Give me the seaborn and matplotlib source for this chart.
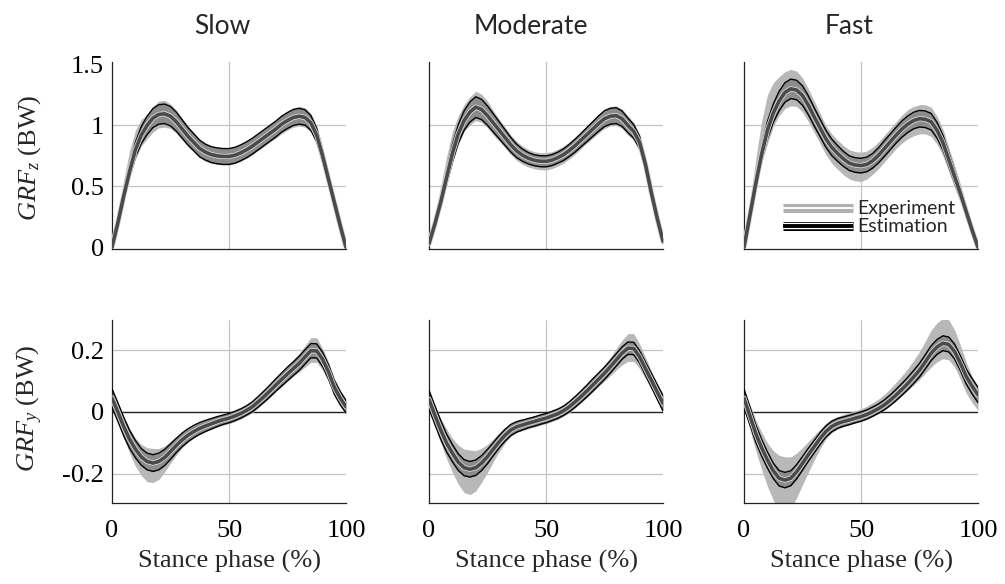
import numpy as np
import pandas as pd
import matplotlib
matplotlib.use("Agg")
import matplotlib.pyplot as plt
import matplotlib.patheffects as pe
from matplotlib.lines import Line2D
import seaborn as sns

# ---------------- data ----------------
stance = [0, 2.5, 5, 7.5, 10, 12.5, 15, 17.5, 20, 22.5,
          25, 27.5, 30, 32.5, 35, 37.5, 40, 42.5, 45, 47.5,
          50, 52.5, 55, 57.5, 60, 62.5, 65, 67.5, 70, 72.5,
          75, 77.5, 80, 82.5, 85, 87.5, 90, 92.5, 95, 97.5, 100]
speeds = ["Slow", "Moderate", "Fast"]

# ---- vertical GRF (BW) ----
grfz_est_mean_slow = [0.00, 0.20, 0.42, 0.62, 0.80, 0.92, 1.00, 1.06, 1.09, 1.095,
                      1.075, 1.03, 0.97, 0.91, 0.86, 0.81, 0.78, 0.76, 0.75, 0.745,
                      0.745, 0.755, 0.775, 0.80, 0.83, 0.865, 0.90, 0.935, 0.97, 1.01,
                      1.04, 1.065, 1.075, 1.065, 1.02, 0.92, 0.75, 0.56, 0.37, 0.18, 0.00]
grfz_est_sd_slow = [0.00, 0.015, 0.03, 0.045, 0.06, 0.07, 0.075, 0.078, 0.08, 0.08,
                    0.08, 0.078, 0.075, 0.072, 0.07, 0.068, 0.065, 0.065, 0.065, 0.065,
                    0.065, 0.065, 0.065, 0.065, 0.065, 0.065, 0.065, 0.065, 0.065, 0.065,
                    0.065, 0.065, 0.065, 0.063, 0.06, 0.055, 0.05, 0.04, 0.03, 0.015, 0.00]
grfz_exp_mean_slow = [0.00, 0.24, 0.47, 0.68, 0.84, 0.94, 0.99, 1.05, 1.09, 1.095,
                      1.075, 1.03, 0.97, 0.91, 0.86, 0.81, 0.78, 0.76, 0.75, 0.745,
                      0.745, 0.755, 0.775, 0.80, 0.83, 0.865, 0.90, 0.935, 0.97, 1.01,
                      1.04, 1.065, 1.075, 1.065, 1.02, 0.92, 0.75, 0.56, 0.37, 0.18, 0.00]
grfz_exp_sd_slow = [0.01, 0.04, 0.08, 0.11, 0.12, 0.11, 0.10, 0.105, 0.11, 0.11,
                    0.10, 0.095, 0.09, 0.085, 0.08, 0.078, 0.075, 0.072, 0.07, 0.07,
                    0.07, 0.07, 0.07, 0.07, 0.07, 0.07, 0.07, 0.07, 0.075, 0.078,
                    0.08, 0.08, 0.08, 0.08, 0.08, 0.075, 0.07, 0.055, 0.04, 0.025, 0.01]

grfz_est_mean_mod = [0.03, 0.19, 0.37, 0.57, 0.77, 0.93, 1.04, 1.11, 1.15, 1.13,
                     1.08, 1.02, 0.96, 0.90, 0.84, 0.79, 0.755, 0.73, 0.714, 0.706,
                     0.705, 0.715, 0.735, 0.76, 0.795, 0.835, 0.88, 0.925, 0.97, 1.015,
                     1.055, 1.075, 1.08, 1.055, 1.00, 0.95, 0.86, 0.68, 0.45, 0.24, 0.05]
grfz_est_sd_mod = [0.01, 0.025, 0.04, 0.055, 0.07, 0.075, 0.08, 0.083, 0.085, 0.083,
                   0.08, 0.075, 0.07, 0.065, 0.06, 0.055, 0.05, 0.047, 0.045, 0.045,
                   0.045, 0.045, 0.045, 0.048, 0.05, 0.053, 0.055, 0.058, 0.06, 0.063,
                   0.065, 0.065, 0.065, 0.063, 0.06, 0.055, 0.05, 0.045, 0.04, 0.03, 0.02]
grfz_exp_mean_mod = [0.03, 0.22, 0.42, 0.63, 0.82, 0.96, 1.06, 1.12, 1.16, 1.14,
                     1.09, 1.02, 0.96, 0.90, 0.84, 0.79, 0.755, 0.73, 0.714, 0.706,
                     0.705, 0.715, 0.735, 0.76, 0.795, 0.835, 0.88, 0.925, 0.97, 1.015,
                     1.055, 1.075, 1.08, 1.055, 1.00, 0.95, 0.86, 0.68, 0.45, 0.24, 0.05]
grfz_exp_sd_mod = [0.02, 0.05, 0.08, 0.11, 0.13, 0.12, 0.11, 0.115, 0.12, 0.115,
                   0.11, 0.10, 0.09, 0.085, 0.08, 0.078, 0.075, 0.072, 0.07, 0.07,
                   0.07, 0.07, 0.07, 0.07, 0.07, 0.07, 0.07, 0.07, 0.075, 0.078,
                   0.08, 0.08, 0.08, 0.08, 0.08, 0.075, 0.07, 0.06, 0.05, 0.035, 0.02]

grfz_est_mean_fast = [0.00, 0.26, 0.52, 0.76, 0.96, 1.10, 1.20, 1.27, 1.30, 1.29,
                      1.245, 1.165, 1.07, 0.98, 0.89, 0.82, 0.77, 0.725, 0.69, 0.675,
                      0.67, 0.68, 0.71, 0.755, 0.81, 0.865, 0.92, 0.97, 1.01, 1.04,
                      1.055, 1.05, 1.03, 0.96, 0.86, 0.72, 0.58, 0.44, 0.29, 0.14, 0.00]
grfz_est_sd_fast = [0.00, 0.02, 0.04, 0.055, 0.07, 0.075, 0.08, 0.08, 0.08, 0.08,
                    0.08, 0.078, 0.075, 0.072, 0.07, 0.068, 0.065, 0.062, 0.06, 0.06,
                    0.06, 0.06, 0.06, 0.062, 0.065, 0.065, 0.065, 0.067, 0.068, 0.068,
                    0.068, 0.068, 0.068, 0.065, 0.06, 0.055, 0.05, 0.04, 0.03, 0.015, 0.00]
grfz_exp_mean_fast = [0.00, 0.30, 0.60, 0.86, 1.05, 1.17, 1.24, 1.29, 1.31, 1.30,
                      1.25, 1.165, 1.07, 0.975, 0.88, 0.81, 0.76, 0.715, 0.68, 0.665,
                      0.66, 0.675, 0.71, 0.755, 0.81, 0.865, 0.92, 0.97, 1.01, 1.035,
                      1.05, 1.05, 1.03, 0.96, 0.86, 0.72, 0.58, 0.44, 0.29, 0.14, 0.00]
grfz_exp_sd_fast = [0.02, 0.07, 0.12, 0.17, 0.20, 0.18, 0.16, 0.15, 0.15, 0.145,
                    0.14, 0.135, 0.13, 0.125, 0.12, 0.12, 0.12, 0.12, 0.12, 0.12,
                    0.12, 0.115, 0.11, 0.11, 0.11, 0.11, 0.11, 0.115, 0.12, 0.12,
                    0.12, 0.12, 0.12, 0.115, 0.11, 0.10, 0.09, 0.075, 0.06, 0.04, 0.02]

# ---- anterior-posterior GRF (BW) ----
grfy_est_mean_slow = [0.045, 0.000, -0.047, -0.088, -0.12, -0.145, -0.16, -0.165, -0.16, -0.147,
                      -0.128, -0.108, -0.09, -0.075, -0.063, -0.053, -0.045, -0.038, -0.031, -0.025,
                      -0.02, -0.013, -0.005, 0.005, 0.017, 0.033, 0.05, 0.068, 0.087, 0.105,
                      0.123, 0.14, 0.157, 0.178, 0.198, 0.197, 0.17, 0.13, 0.08, 0.045, 0.017]
grfy_est_sd_slow = [0.03, 0.03, 0.03, 0.029, 0.028, 0.027, 0.027, 0.027, 0.027, 0.026,
                    0.025, 0.023, 0.022, 0.021, 0.02, 0.019, 0.018, 0.017, 0.016, 0.015,
                    0.015, 0.015, 0.015, 0.015, 0.016, 0.017, 0.018, 0.019, 0.02, 0.021,
                    0.022, 0.022, 0.023, 0.023, 0.023, 0.023, 0.023, 0.023, 0.022, 0.021, 0.02]
grfy_exp_mean_slow = [0.045, -0.002, -0.05, -0.093, -0.13, -0.155, -0.17, -0.173, -0.168, -0.152,
                      -0.13, -0.109, -0.09, -0.075, -0.063, -0.053, -0.045, -0.038, -0.031, -0.025,
                      -0.02, -0.013, -0.005, 0.005, 0.017, 0.033, 0.05, 0.068, 0.087, 0.105,
                      0.124, 0.142, 0.16, 0.18, 0.20, 0.20, 0.17, 0.13, 0.08, 0.045, 0.017]
grfy_exp_sd_slow = [0.03, 0.032, 0.035, 0.04, 0.045, 0.05, 0.055, 0.055, 0.05, 0.042,
                    0.035, 0.03, 0.025, 0.022, 0.02, 0.018, 0.018, 0.018, 0.018, 0.018,
                    0.018, 0.018, 0.018, 0.018, 0.02, 0.02, 0.02, 0.021, 0.022, 0.023,
                    0.025, 0.027, 0.03, 0.035, 0.04, 0.04, 0.035, 0.032, 0.03, 0.027, 0.025]

grfy_est_mean_mod = [0.04, -0.01, -0.058, -0.10, -0.133, -0.162, -0.18, -0.185, -0.18, -0.165,
                     -0.144, -0.12, -0.096, -0.075, -0.058, -0.048, -0.042, -0.036, -0.031, -0.025,
                     -0.02, -0.013, -0.006, 0.004, 0.017, 0.033, 0.05, 0.068, 0.087, 0.106,
                     0.125, 0.146, 0.168, 0.19, 0.206, 0.205, 0.178, 0.14, 0.103, 0.065, 0.028]
grfy_est_sd_mod = [0.03, 0.03, 0.03, 0.029, 0.028, 0.027, 0.026, 0.025, 0.025, 0.024,
                   0.023, 0.021, 0.02, 0.019, 0.018, 0.017, 0.016, 0.015, 0.015, 0.015,
                   0.015, 0.015, 0.015, 0.015, 0.016, 0.017, 0.018, 0.019, 0.02, 0.02,
                   0.02, 0.02, 0.02, 0.02, 0.02, 0.02, 0.02, 0.021, 0.022, 0.023, 0.025]
grfy_exp_mean_mod = [0.04, -0.012, -0.06, -0.103, -0.14, -0.17, -0.19, -0.195, -0.19, -0.172,
                     -0.15, -0.123, -0.098, -0.076, -0.058, -0.048, -0.042, -0.036, -0.031, -0.025,
                     -0.02, -0.013, -0.006, 0.004, 0.017, 0.033, 0.05, 0.068, 0.087, 0.106,
                     0.125, 0.147, 0.17, 0.192, 0.208, 0.208, 0.18, 0.142, 0.103, 0.065, 0.028]
grfy_exp_sd_mod = [0.03, 0.035, 0.04, 0.048, 0.055, 0.063, 0.07, 0.072, 0.065, 0.055,
                   0.045, 0.037, 0.03, 0.025, 0.02, 0.018, 0.018, 0.018, 0.018, 0.018,
                   0.018, 0.018, 0.018, 0.018, 0.02, 0.02, 0.02, 0.021, 0.022, 0.023,
                   0.025, 0.03, 0.035, 0.04, 0.045, 0.045, 0.04, 0.035, 0.03, 0.03, 0.03]

grfy_est_mean_fast = [0.044, -0.012, -0.069, -0.115, -0.155, -0.19, -0.214, -0.22, -0.214, -0.193,
                      -0.166, -0.138, -0.112, -0.086, -0.063, -0.047, -0.037, -0.031, -0.026, -0.02,
                      -0.015, -0.008, 0.001, 0.011, 0.023, 0.038, 0.055, 0.073, 0.092, 0.113,
                      0.135, 0.162, 0.19, 0.21, 0.222, 0.218, 0.195, 0.157, 0.114, 0.083, 0.055]
grfy_est_sd_fast = [0.03, 0.029, 0.028, 0.027, 0.026, 0.025, 0.025, 0.025, 0.024, 0.023,
                    0.022, 0.021, 0.02, 0.019, 0.018, 0.017, 0.016, 0.015, 0.015, 0.015,
                    0.015, 0.015, 0.015, 0.015, 0.016, 0.017, 0.018, 0.019, 0.02, 0.021,
                    0.022, 0.023, 0.024, 0.024, 0.024, 0.024, 0.024, 0.024, 0.024, 0.025, 0.025]
grfy_exp_mean_fast = [0.044, -0.015, -0.075, -0.125, -0.17, -0.205, -0.23, -0.235, -0.23, -0.205,
                      -0.175, -0.145, -0.115, -0.087, -0.062, -0.045, -0.035, -0.028, -0.022, -0.016,
                      -0.01, -0.002, 0.008, 0.019, 0.032, 0.048, 0.066, 0.085, 0.105, 0.127,
                      0.15, 0.177, 0.205, 0.225, 0.237, 0.233, 0.205, 0.16, 0.11, 0.072, 0.04]
grfy_exp_sd_fast = [0.03, 0.04, 0.05, 0.06, 0.07, 0.08, 0.09, 0.09, 0.085, 0.072,
                    0.06, 0.05, 0.04, 0.032, 0.025, 0.022, 0.02, 0.02, 0.02, 0.02,
                    0.02, 0.021, 0.022, 0.023, 0.025, 0.027, 0.03, 0.032, 0.035, 0.04,
                    0.045, 0.052, 0.06, 0.063, 0.065, 0.065, 0.06, 0.055, 0.05, 0.042, 0.035]

x_ticks = [0, 50, 100]
x_tick_labels = ["0", "50", "100"]
z_ticks = [0, 0.5, 1, 1.5]
z_tick_labels = ["0", "0.5", "1", "1.5"]
y_ticks = [-0.2, 0, 0.2]
y_tick_labels = ["-0.2", "0", "0.2"]

panels = {
    ("z", "Slow"): (grfz_exp_mean_slow, grfz_exp_sd_slow, grfz_est_mean_slow, grfz_est_sd_slow),
    ("z", "Moderate"): (grfz_exp_mean_mod, grfz_exp_sd_mod, grfz_est_mean_mod, grfz_est_sd_mod),
    ("z", "Fast"): (grfz_exp_mean_fast, grfz_exp_sd_fast, grfz_est_mean_fast, grfz_est_sd_fast),
    ("y", "Slow"): (grfy_exp_mean_slow, grfy_exp_sd_slow, grfy_est_mean_slow, grfy_est_sd_slow),
    ("y", "Moderate"): (grfy_exp_mean_mod, grfy_exp_sd_mod, grfy_est_mean_mod, grfy_est_sd_mod),
    ("y", "Fast"): (grfy_exp_mean_fast, grfy_exp_sd_fast, grfy_est_mean_fast, grfy_est_sd_fast),
}

# ---------------- style ----------------
sns.set_theme(style="white")
plt.rcParams["font.family"] = ["Liberation Serif", "DejaVu Serif"]
plt.rcParams["mathtext.fontset"] = "custom"
plt.rcParams["mathtext.rm"] = "Liberation Serif"
plt.rcParams["mathtext.it"] = "Liberation Serif:italic"

EXP_C = "#b8b8b8"
EST_FILL = "#8c8c8c"
MEAN_C = "#4a4a4a"
GRID_C = "#c4c4c4"

fig = plt.figure(figsize=(10.05, 5.84), dpi=100)
W, H = 1005, 584
col_left = [112, 429, 744]
col_w = 234
rows = {"z": (62, 248.5), "y": (320, 503.3)}

axes = {}
for comp, (top, bot) in rows.items():
    for ci, sp in enumerate(speeds):
        ax = fig.add_axes([col_left[ci] / W, 1 - bot / H, col_w / W, (bot - top) / H])
        axes[(comp, sp)] = ax
        exp_m, exp_s, est_m, est_s = [np.asarray(a) for a in panels[(comp, sp)]]
        xs = np.asarray(stance)

        # reference lines
        ax.axvline(50, color=GRID_C, lw=0.9, zorder=0)
        if comp == "z":
            for g in (0.5, 1.0):
                ax.axhline(g, color=GRID_C, lw=0.9, zorder=0)
        else:
            for g in (-0.2, 0.2):
                ax.axhline(g, color=GRID_C, lw=0.9, zorder=0)
            ax.axhline(0, color="#222222", lw=1.0, zorder=0.5)

        # experiment band (mean +/- SD)
        ax.fill_between(xs, exp_m - exp_s, exp_m + exp_s, color=EXP_C, lw=0, zorder=1)
        # estimation band (mean +/- SD)
        ax.fill_between(xs, est_m - est_s, est_m + est_s, color=EST_FILL, lw=0, zorder=2)
        df = pd.DataFrame({"x": xs, "lo": est_m - est_s, "hi": est_m + est_s, "m": est_m})
        sns.lineplot(data=df, x="x", y="hi", ax=ax, color="black", lw=1.0, zorder=3)
        sns.lineplot(data=df, x="x", y="lo", ax=ax, color="black", lw=1.0, zorder=3)
        sns.lineplot(data=df, x="x", y="m", ax=ax, color=MEAN_C, lw=2.6, zorder=4,
                     path_effects=[pe.Stroke(linewidth=3.8, foreground="#d8d8d8"), pe.Normal()])

        ax.set_xlim(0, 100)
        ax.set_xticks(x_ticks)
        if comp == "z":
            ax.set_ylim(-0.01, 1.52)
            ax.set_yticks(z_ticks)
            ax.set_yticklabels(z_tick_labels if ci == 0 else [])
            ax.set_xticklabels([])
            ax.set_xlabel("")
        else:
            ax.set_ylim(-0.295, 0.297)
            ax.set_yticks(y_ticks)
            ax.set_yticklabels(y_tick_labels if ci == 0 else [])
            ax.set_xticklabels(x_tick_labels)
            ax.set_xlabel("Stance phase (%)", fontsize=19, labelpad=6)
        ax.set_ylabel("")
        ax.tick_params(axis="both", direction="in", length=3, width=0.8, colors="#222222",
                       labelsize=19, labelcolor="black")
        ax.tick_params(axis="x", pad=12)
        ax.tick_params(axis="y", pad=6)
        for s in ("top", "right"):
            ax.spines[s].set_visible(False)
        for s in ("left", "bottom"):
            ax.spines[s].set_color("#222222")
            ax.spines[s].set_linewidth(0.9)

# column titles
title_x = [222, 531, 849]
for sp, tx in zip(speeds, title_x):
    fig.text(tx / W, 1 - 26 / H, sp, ha="center", va="center", fontsize=19,
             family=["Lato", "DejaVu Sans"])

# y labels
fig.text(30 / W, 1 - 158 / H, r"$GRF_{z}$ (BW)", rotation=90, ha="center", va="center", fontsize=19)
fig.text(30 / W, 1 - 408 / H, r"$GRF_{y}$ (BW)", rotation=90, ha="center", va="center", fontsize=19)

# legend in the Fast GRFz panel
h_exp = Line2D([], [], color="white", lw=1.4, solid_capstyle="butt",
               path_effects=[pe.Stroke(linewidth=6.5, foreground="#b0b0b0"), pe.Normal()])
h_est = Line2D([], [], color="black", lw=2.8, solid_capstyle="butt",
               path_effects=[pe.Stroke(linewidth=6.5, foreground="black"),
                             pe.Stroke(linewidth=4.6, foreground="white"), pe.Normal()])
axf = axes[("z", "Fast")]
axf.legend([h_exp, h_est], ["Experiment", "Estimation"], loc="lower left",
           bbox_to_anchor=(0.165, 0.07), frameon=False, borderpad=0, borderaxespad=0,
           handlelength=3.6, handletextpad=0.25, labelspacing=0.05,
           prop={"family": ["Lato", "DejaVu Sans"], "size": 14})

fig.savefig("out.png", dpi=100, facecolor="white")
